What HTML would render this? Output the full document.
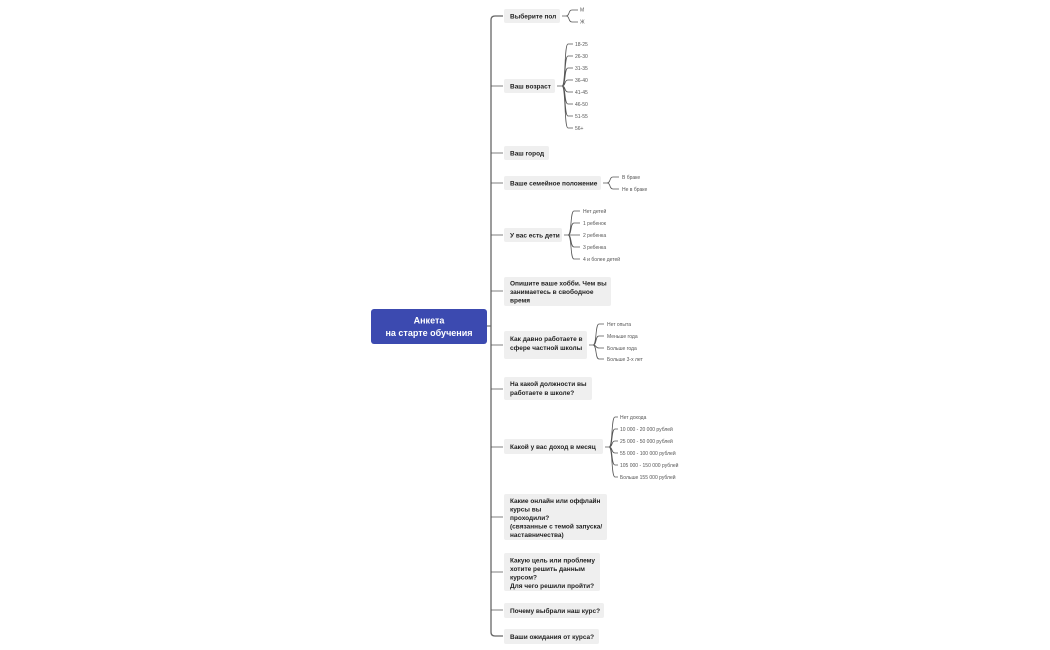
<!DOCTYPE html>
<html><head><meta charset="utf-8"><style>
html,body{margin:0;padding:0;background:#fff;width:1050px;height:650px;overflow:hidden}
svg{display:block}
.n{font-family:"Liberation Sans","Noto Sans CJK SC",sans-serif;font-size:6.5px;font-weight:bold;fill:#222}
.c{font-family:"Liberation Sans","Noto Sans CJK SC",sans-serif;font-size:5px;fill:#555}
.r{font-family:"Liberation Sans","Noto Sans CJK SC",sans-serif;font-size:9px;font-weight:bold;fill:#fff}
path{fill:none;stroke:#555;stroke-width:0.8}
rect.b{fill:#efefef}
</style></head><body>
<svg width="1050" height="650" viewBox="0 0 1050 650">
<rect x="371" y="309" width="116" height="35" rx="3" fill="#3c4ab0"/>
<text class="r" x="429" y="323.5" text-anchor="middle">Анкета</text>
<text class="r" x="429" y="336" text-anchor="middle">на старте обучения</text>
<path d="M487 326 H491" style="stroke-width:1"/>
<path d="M503 16 H495 Q491 16 491 20 V632 Q491 636 495 636 H503" style="stroke-width:1.3;stroke:#666"/>
<path d="M491 86 H503 M491 153 H503 M491 183 H503 M491 235 H503 M491 291 H503 M491 345 H503 M491 389 H503 M491 447 H503 M491 517 H503 M491 572 H503 M491 610 H503"/>

<rect class="b" x="504" y="9" width="56" height="14" rx="2"/><text class="n" x="510" y="18.5">Выберите пол</text>
<rect class="b" x="504" y="79" width="51" height="14" rx="2"/><text class="n" x="510" y="88.5">Ваш возраст</text>
<rect class="b" x="504" y="146" width="45" height="14" rx="2"/><text class="n" x="510" y="155.5">Ваш город</text>
<rect class="b" x="504" y="176" width="97" height="14" rx="2"/><text class="n" x="510" y="185.5">Ваше семейное положение</text>
<rect class="b" x="504" y="228" width="58" height="14" rx="2"/><text class="n" x="510" y="237.5">У вас есть дети</text>
<rect class="b" x="504" y="277" width="107" height="29" rx="2"/><text class="n" x="510" y="285.5">Опишите ваше хобби. Чем вы</text><text class="n" x="510" y="294">занимаетесь в свободное</text><text class="n" x="510" y="302.5">время</text>
<rect class="b" x="504" y="331" width="83" height="28" rx="2"/><text class="n" x="510" y="341">Как давно работаете в</text><text class="n" x="510" y="350">сфере частной школы</text>
<rect class="b" x="504" y="377" width="88" height="23" rx="2"/><text class="n" x="510" y="386">На какой должности вы</text><text class="n" x="510" y="395">работаете в школе?</text>
<rect class="b" x="504" y="439" width="99" height="15" rx="2"/><text class="n" x="510" y="449">Какой у вас доход в месяц</text>
<rect class="b" x="504" y="494" width="103" height="46" rx="2"/><text class="n" x="510" y="503">Какие онлайн или оффлайн</text><text class="n" x="510" y="511.5">курсы вы</text><text class="n" x="510" y="520">проходили?</text><text class="n" x="510" y="528.5">(связанные с темой запуска/</text><text class="n" x="510" y="537">наставничества)</text>
<rect class="b" x="504" y="553" width="96" height="38" rx="2"/><text class="n" x="510" y="562.5">Какую цель или проблему</text><text class="n" x="510" y="571">хотите решить данным</text><text class="n" x="510" y="579.5">курсом?</text><text class="n" x="510" y="588">Для чего решили пройти?</text>
<rect class="b" x="504" y="603" width="100" height="15" rx="2"/><text class="n" x="510" y="613">Почему выбрали наш курс?</text>
<rect class="b" x="504" y="629" width="95" height="15" rx="2"/><text class="n" x="510" y="639">Ваши ожидания от курса?</text>

<path d="M562 16 H566 C570 16 568 10 572 10 H578 M566 16 C570 16 568 22 572 22 H578"/>
<text class="c" x="580" y="11.5">М</text><text class="c" x="580" y="23.5">Ж</text>
<path d="M557 86 H562 C566 86 564 44 568 44 H573 M562 86 C566 86 564 56 568 56 H573 M562 86 C566 86 564 68 568 68 H573 M562 86 C566 86 564 80 568 80 H573 M562 86 C566 86 564 92 568 92 H573 M562 86 C566 86 564 104 568 104 H573 M562 86 C566 86 564 116 568 116 H573 M562 86 C566 86 564 128 568 128 H573"/>
<text class="c" x="575" y="46">18-25</text><text class="c" x="575" y="58">26-30</text><text class="c" x="575" y="70">31-35</text><text class="c" x="575" y="82">36-40</text><text class="c" x="575" y="94">41-45</text><text class="c" x="575" y="106">46-50</text><text class="c" x="575" y="118">51-55</text><text class="c" x="575" y="130">56+</text>
<path d="M603 183 H607 C611 183 609 177 613 177 H619 M607 183 C611 183 609 189 613 189 H619"/>
<text class="c" x="622" y="179">В браке</text><text class="c" x="622" y="191">Не в браке</text>
<path d="M564 235 H568 C572 235 570 211 574 211 H580 M568 235 C572 235 570 223 574 223 H580 M568 235 H580 M568 235 C572 235 570 247 574 247 H580 M568 235 C572 235 570 259 574 259 H580"/>
<text class="c" x="583" y="213">Нет детей</text><text class="c" x="583" y="225">1 ребенок</text><text class="c" x="583" y="237">2 ребенка</text><text class="c" x="583" y="249">3 ребенка</text><text class="c" x="583" y="261">4 и более детей</text>
<path d="M589 345 H593 C597 345 595 324 599 324 H604 M593 345 C597 345 595 336 599 336 H604 M593 345 C597 345 595 348 599 348 H604 M593 345 C597 345 595 359 599 359 H604"/>
<text class="c" x="607" y="326">Нет опыта</text><text class="c" x="607" y="338">Меньше года</text><text class="c" x="607" y="350">Больше года</text><text class="c" x="607" y="361">Больше 3-х лет</text>
<path d="M605 447 H609 C613 447 611 417 615 417 H618 M609 447 C613 447 611 429 615 429 H618 M609 447 C613 447 611 441 615 441 H618 M609 447 C613 447 611 453 615 453 H618 M609 447 C613 447 611 465 615 465 H618 M609 447 C613 447 611 477 615 477 H618"/>
<text class="c" x="620" y="419">Нет дохода</text><text class="c" x="620" y="431">10 000 - 20 000 рублей</text><text class="c" x="620" y="443">25 000 - 50 000 рублей</text><text class="c" x="620" y="455">55 000 - 100 000 рублей</text><text class="c" x="620" y="467">105 000 - 150 000 рублей</text><text class="c" x="620" y="479">Больше 155 000 рублей</text>
</svg>
</body></html>
